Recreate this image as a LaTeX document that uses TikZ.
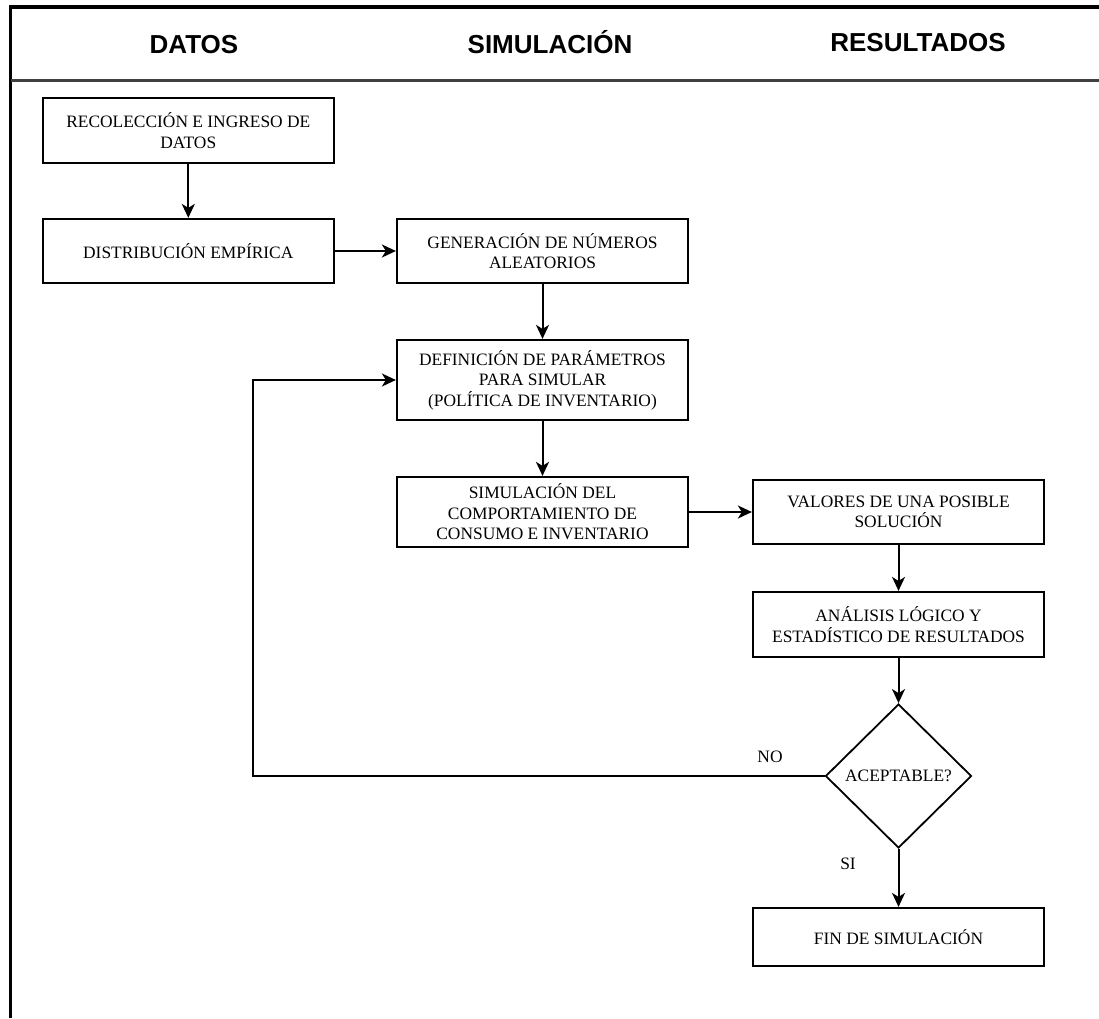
\documentclass[tikz,border=0pt]{standalone}
\usepackage{fontspec}
\setmainfont{Liberation Serif}
\newfontfamily\titulofont{Liberation Sans}
\usepackage{tikz}
\usetikzlibrary{arrows.meta}
\usetikzlibrary{shapes,arrows}
\tikzstyle{caja} = [draw, line width=2.2pt, minimum width=291pt, minimum height=65pt, inner sep=2pt, align=center, font=\fontsize{17.4}{20.5}\selectfont]
\tikzstyle{decision} = [draw, diamond, aspect=1, line width=1.8pt, minimum width=146pt, minimum height=144pt, inner sep=0pt, font=\fontsize{17.4}{20.5}\selectfont]
\tikzstyle{flecha} = [line width=2pt, -{Stealth[length=14pt,width=13pt,inset=4pt]}]
\tikzstyle{titulo} = [anchor=base, font=\titulofont\bfseries\fontsize{26}{30}\selectfont]
\tikzstyle{etiqueta} = [font=\fontsize{17.4}{20.5}\selectfont]

\begin{document}
\begin{tikzpicture}[x=1pt, y=-1pt]
            \useasboundingbox (0,0) rectangle (1099,1018);

            % marco y encabezados
            \draw[line width=3.5pt] (10.7,1018) -- (10.7,7) -- (1099,7);
            \draw[line width=3pt, black!75] (10.7,80) -- (1099,80);
            \node[titulo] (datos) at (194,53) {DATOS};
            \node[titulo] (simulacion) at (550,53) {SIMULACIÓN};
            \node[titulo] (resultados) at (918,51) {RESULTADOS};

            \node[caja] (rec) at (188.3,130.5) {RECOLECCIÓN E INGRESO DE\\DATOS};
            \node[caja, minimum height=64pt] (dist) at (188.3,251) {DISTRIBUCIÓN EMPÍRICA};
            \node[caja, minimum height=64pt] (gen) at (542.5,251) {GENERACIÓN DE NÚMEROS\\ALEATORIOS};
            \node[caja, minimum height=80pt] (def) at (542.5,380) {DEFINICIÓN DE PARÁMETROS\\PARA SIMULAR\\(POLÍTICA DE INVENTARIO)};
            \node[caja, minimum height=70pt] (sim) at (542.5,512) {SIMULACIÓN DEL\\COMPORTAMIENTO DE\\CONSUMO E INVENTARIO};
            \node[caja, minimum height=64pt] (val) at (898.5,512) {VALORES DE UNA POSIBLE\\SOLUCIÓN};
            \node[caja] (ana) at (898.5,624.5) {ANÁLISIS LÓGICO Y\\ESTADÍSTICO DE RESULTADOS};
            \node[decision] (acep) at (898.5,776) {ACEPTABLE?};
            \node[caja, minimum height=58pt] (fin) at (898.5,937) {FIN DE SIMULACIÓN};

            \coordinate (retorno) at (253,776);

            \draw[flecha] (rec) -- (dist);
            \draw[flecha] (dist) -- (gen);
            \draw[flecha] (gen) -- (def);
            \draw[flecha] (def) -- (sim);
            \draw[flecha] (sim) -- (val);
            \draw[flecha] (val) -- (ana);
            \draw[flecha] (ana) -- (acep);
            \draw[flecha] (acep) -- (fin);
            \draw[flecha] (acep.west) -- (retorno) |- (def.west);

            \node[etiqueta] (no) at (770,757) {NO};
            \node[etiqueta] (si) at (848,864) {SI};
        \end{tikzpicture}
\end{document}
